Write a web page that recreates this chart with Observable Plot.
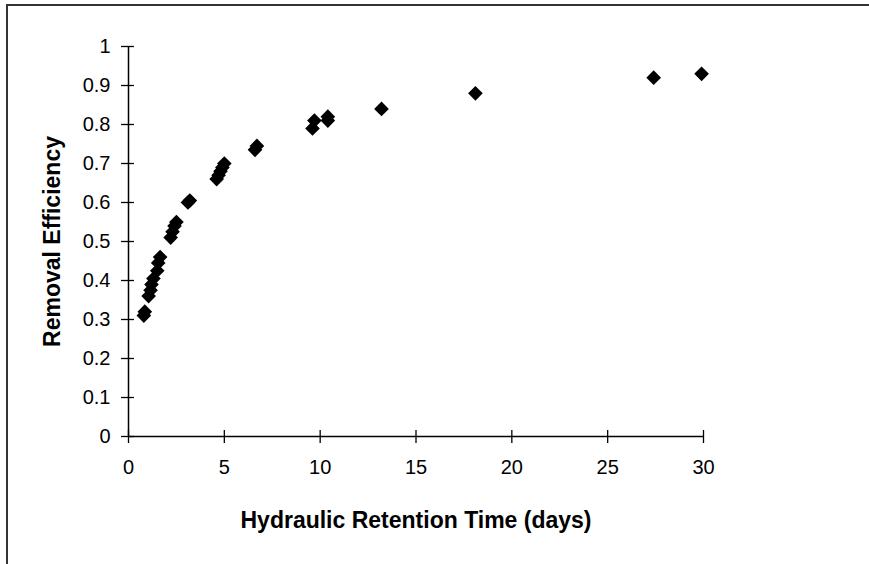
<!DOCTYPE html>
<html>
<head>
<meta charset="utf-8">
<script src="https://cdn.jsdelivr.net/npm/d3@7"></script>
<script src="https://cdn.jsdelivr.net/npm/@observablehq/plot@0.6"></script>
<style>
  html, body { margin: 0; padding: 0; background: #fff; }
  #wrap { position: relative; width: 869px; height: 564px; overflow: hidden; }
  #border { position: absolute; left: 6px; top: 4px; width: 900px; height: 600px;
            border-left: 2px solid #333; border-top: 2px solid #333; pointer-events: none; }
</style>
</head>
<body>
<div id="wrap"><div id="border"></div></div>
<script>
// Hydraulic retention time (days)
const hrt = [0.8, 0.85, 1.05, 1.15, 1.2, 1.3, 1.5, 1.55, 1.65, 2.2, 2.3, 2.4, 2.5, 3.1, 3.2,
             4.6, 4.7, 4.8, 4.9, 5.0, 6.6, 6.7, 9.6, 9.7, 10.4, 10.4, 13.2, 18.1, 27.4, 29.9];
// Removal efficiency
const eff = [0.31, 0.32, 0.36, 0.375, 0.39, 0.405, 0.425, 0.445, 0.46, 0.51, 0.525, 0.54, 0.55, 0.60, 0.605,
             0.66, 0.67, 0.68, 0.69, 0.70, 0.735, 0.745, 0.79, 0.81, 0.81, 0.82, 0.84, 0.88, 0.92, 0.93];
const xTicks = [0, 5, 10, 15, 20, 25, 30];
const yTicks = [0, 0.1, 0.2, 0.3, 0.4, 0.5, 0.6, 0.7, 0.8, 0.9, 1];
const xTitle = "Hydraulic Retention Time (days)";
const yTitle = "Removal Efficiency";

const data = hrt.map((h, i) => ({hrt: h, eff: eff[i]}));
const fmt = d => String(+d.toFixed(1));

const chart = Plot.plot({
  width: 869,
  height: 564,
  marginLeft: 128,
  marginRight: 166,
  marginTop: 46,
  marginBottom: 128,
  style: {fontFamily: "'Liberation Sans', Arial, sans-serif", fontSize: "20px", color: "#000", background: "#fff"},
  x: {domain: [0, 30]},
  y: {domain: [0, 1]},
  marks: [
    Plot.axisX({ticks: xTicks, tickSize: 7, tickPadding: 16, tickFormat: fmt, label: null, stroke: "#000", strokeWidth: 1.3, fontSize: 20}),
    Plot.axisX({ticks: xTicks, tickSize: -6, tickFormat: () => "", label: null, stroke: "#000", strokeWidth: 1.3}),
    Plot.axisY({ticks: yTicks, tickSize: 7, tickPadding: 11, tickFormat: fmt, label: null, stroke: "#000", strokeWidth: 1.3, fontSize: 20}),
    Plot.axisY({ticks: yTicks, tickSize: -6, tickFormat: () => "", label: null, stroke: "#000", strokeWidth: 1.3}),
    Plot.ruleX([0], {stroke: "#000", strokeWidth: 1.5}),
    Plot.ruleY([0], {stroke: "#000", strokeWidth: 1.5}),
    Plot.dot(data, {x: "hrt", y: "eff", symbol: "diamond2", r: 6.6, fill: "#000", stroke: "none"}),
    Plot.text([xTitle], {text: d => d, frameAnchor: "bottom", dy: 84, lineAnchor: "middle", textAnchor: "middle", fontWeight: "bold", fontSize: 23, fill: "#000"}),
    Plot.text([yTitle], {text: d => d, frameAnchor: "left", dx: -76, rotate: -90, lineAnchor: "middle", textAnchor: "middle", fontWeight: "bold", fontSize: 23, fill: "#000"})
  ]
});
document.getElementById("wrap").prepend(chart);
</script>
</body>
</html>
